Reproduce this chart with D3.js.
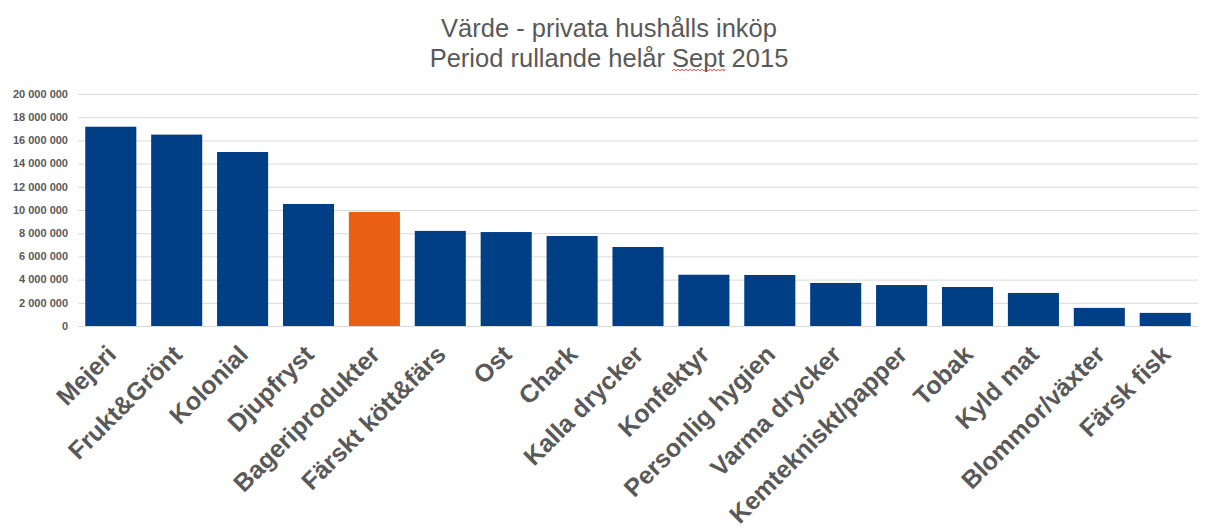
<!DOCTYPE html>
<html><head><meta charset="utf-8">
<script src="https://cdn.jsdelivr.net/npm/d3@7"></script>
<style>body{margin:0;background:#fff;}svg{display:block;font-family:"Liberation Sans",Arial,sans-serif;}</style>
</head><body>
<svg id="c" width="1207" height="531"></svg>
<script>
const categories = ["Mejeri","Frukt&Grönt","Kolonial","Djupfryst","Bageriprodukter","Färskt kött&färs","Ost","Chark","Kalla drycker","Konfektyr","Personlig hygien","Varma drycker","Kemtekniskt/papper","Tobak","Kyld mat","Blommor/växter","Färsk fisk"];
const values = [17180000,16500000,15000000,10520000,9830000,8200000,8100000,7760000,6810000,4420000,4400000,3710000,3530000,3360000,2850000,1560000,1130000];
const highlighted = ["Bageriprodukter"];
const yTicks = [0,2000000,4000000,6000000,8000000,10000000,12000000,14000000,16000000,18000000,20000000];
const titleLine1 = "Värde - privata hushålls inköp";
const titleLine2 = ["Period rullande helår ","Sept"," 2015"];

const svg = d3.select("#c");
const m = {left:78, right:1198, top:94, bottom:326};
const x = d3.scaleBand().domain(categories).range([m.left, m.right]).paddingInner(0.225).paddingOuter(0.11);
const y = d3.scaleLinear().domain([0,20000000]).range([m.bottom, m.top]);
const fmt = v => d3.format(",")(v).replace(/,/g," ");

svg.append("g").selectAll("line").data(yTicks).join("line")
  .attr("x1", m.left).attr("x2", m.right)
  .attr("y1", d=>y(d)+0.5).attr("y2", d=>y(d)+0.5)
  .attr("stroke","#d9d9d9").attr("stroke-width",1);

svg.append("g").selectAll("text").data(yTicks).join("text")
  .attr("x", 68).attr("y", d=>y(d)).attr("dy","0.35em")
  .attr("text-anchor","end").attr("font-size",11).attr("font-weight","bold")
  .attr("fill","#595959").text(fmt);

svg.append("g").selectAll("rect").data(categories).join("rect")
  .attr("x", d=>x(d)).attr("width", x.bandwidth())
  .attr("y", (d,i)=>y(values[i])).attr("height",(d,i)=>y(0)-y(values[i]))
  .attr("fill", d=>highlighted.includes(d) ? "#EA5F12" : "#003F85");

svg.append("g").selectAll("text").data(categories).join("text")
  .attr("transform", d=>`translate(${x(d)+x.bandwidth()/2+7},${y(0)+30}) rotate(-45)`)
  .attr("text-anchor","end").attr("font-size",25).attr("font-weight","bold")
  .attr("fill","#595959").text(d=>d);

const tg = svg.append("g").attr("fill","#595959").attr("font-size",25.5).attr("text-anchor","middle");
tg.append("text").attr("x",609).attr("y",37).text(titleLine1);
const t2 = tg.append("text").attr("x",609).attr("y",67);
t2.selectAll("tspan").data(titleLine2).join("tspan").text(d=>d);
const n = t2.node();
const start = n.getStartPositionOfChar(titleLine2[0].length).x;
const end = n.getEndPositionOfChar(titleLine2[0].length+3).x;
let p = `M${start},71`;
for (let xx=start, k=0; xx<end; xx+=2, k++) p += ` L${Math.min(xx+2,end)},${k%2?71:69}`;
svg.append("path").attr("d",p).attr("fill","none").attr("stroke","#e03030").attr("stroke-width",0.8);
</script>
</body></html>
